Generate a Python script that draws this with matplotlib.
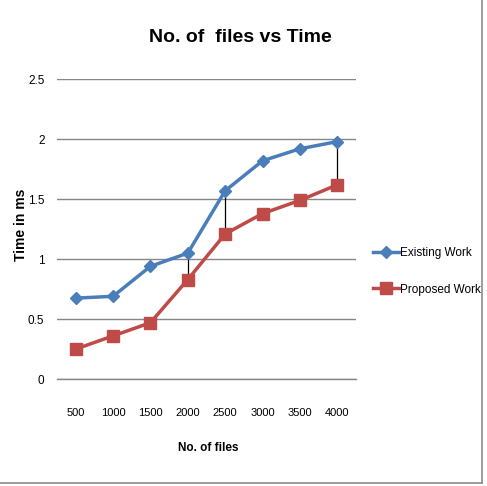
import numpy as np
import matplotlib.pyplot as plt
from matplotlib.lines import Line2D

# data
files = ['500', '1000', '1500', '2000', '2500', '3000', '3500', '4000']
existing = [0.675, 0.69, 0.94, 1.05, 1.57, 1.82, 1.92, 1.98]
proposed = [0.25, 0.36, 0.47, 0.83, 1.21, 1.38, 1.49, 1.62]
drop_idx = [3, 4, 7]

plt.rcParams['font.family'] = ['Liberation Sans', 'DejaVu Sans']

fig = plt.figure(figsize=(4.87, 4.86), dpi=100)
ax = fig.add_axes([0.117, 0.220, 0.614, 0.617])

x = np.arange(len(files))
for i in drop_idx:
    ax.plot([x[i], x[i]], [proposed[i], existing[i]], color='black', lw=0.9, zorder=2)
ax.plot(x, existing, color='#4a7ebb', lw=2.5, marker='D', ms=6, zorder=3,
        label='Existing Work')
ax.plot(x, proposed, color='#be4b48', lw=2.5, marker='s', ms=8, zorder=3,
        label='Proposed Work')

ax.set_xlim(-0.5, len(files) - 0.5)
ax.set_ylim(0, 2.5)
ax.set_yticks([0, 0.5, 1, 1.5, 2, 2.5])
ax.set_yticklabels(['0', '0.5', '1', '1.5', '2', '2.5'], fontsize=8.5)
ax.set_xticks(x)
ax.set_xticklabels(files, fontsize=8)
ax.tick_params(length=0, pad=9)
ax.tick_params(axis='x', pad=21)
ax.yaxis.grid(True, color='#868686', lw=1)
ax.axhline(0, color='#868686', lw=1, clip_on=False, zorder=0.5)
ax.set_axisbelow(True)
for s in ax.spines.values():
    s.set_visible(False)

fig.text(0.493, 0.922, 'No. of  files vs Time', ha='center', va='center',
         fontsize=14, fontweight='bold')
fig.text(0.428, 0.078, 'No. of files', ha='center', va='center',
         fontsize=8.5, fontweight='bold')
fig.text(0.043, 0.537, 'Time in ms', ha='center', va='center', rotation=90,
         fontsize=10, fontweight='bold')

ax.legend(loc='center left', bbox_to_anchor=(1.02, 0.36), frameon=False,
          fontsize=8.5, handlelength=2.2, handletextpad=0.1, labelspacing=2.1)

# outer frame (right and bottom edges visible)
fig.add_artist(Line2D([0.990, 0.990], [0.006, 1.0], color='#8c8c8c', lw=1.2))
fig.add_artist(Line2D([0.0, 0.990], [0.006, 0.006], color='#8c8c8c', lw=1.2))

fig.savefig('out.png', dpi=100)
